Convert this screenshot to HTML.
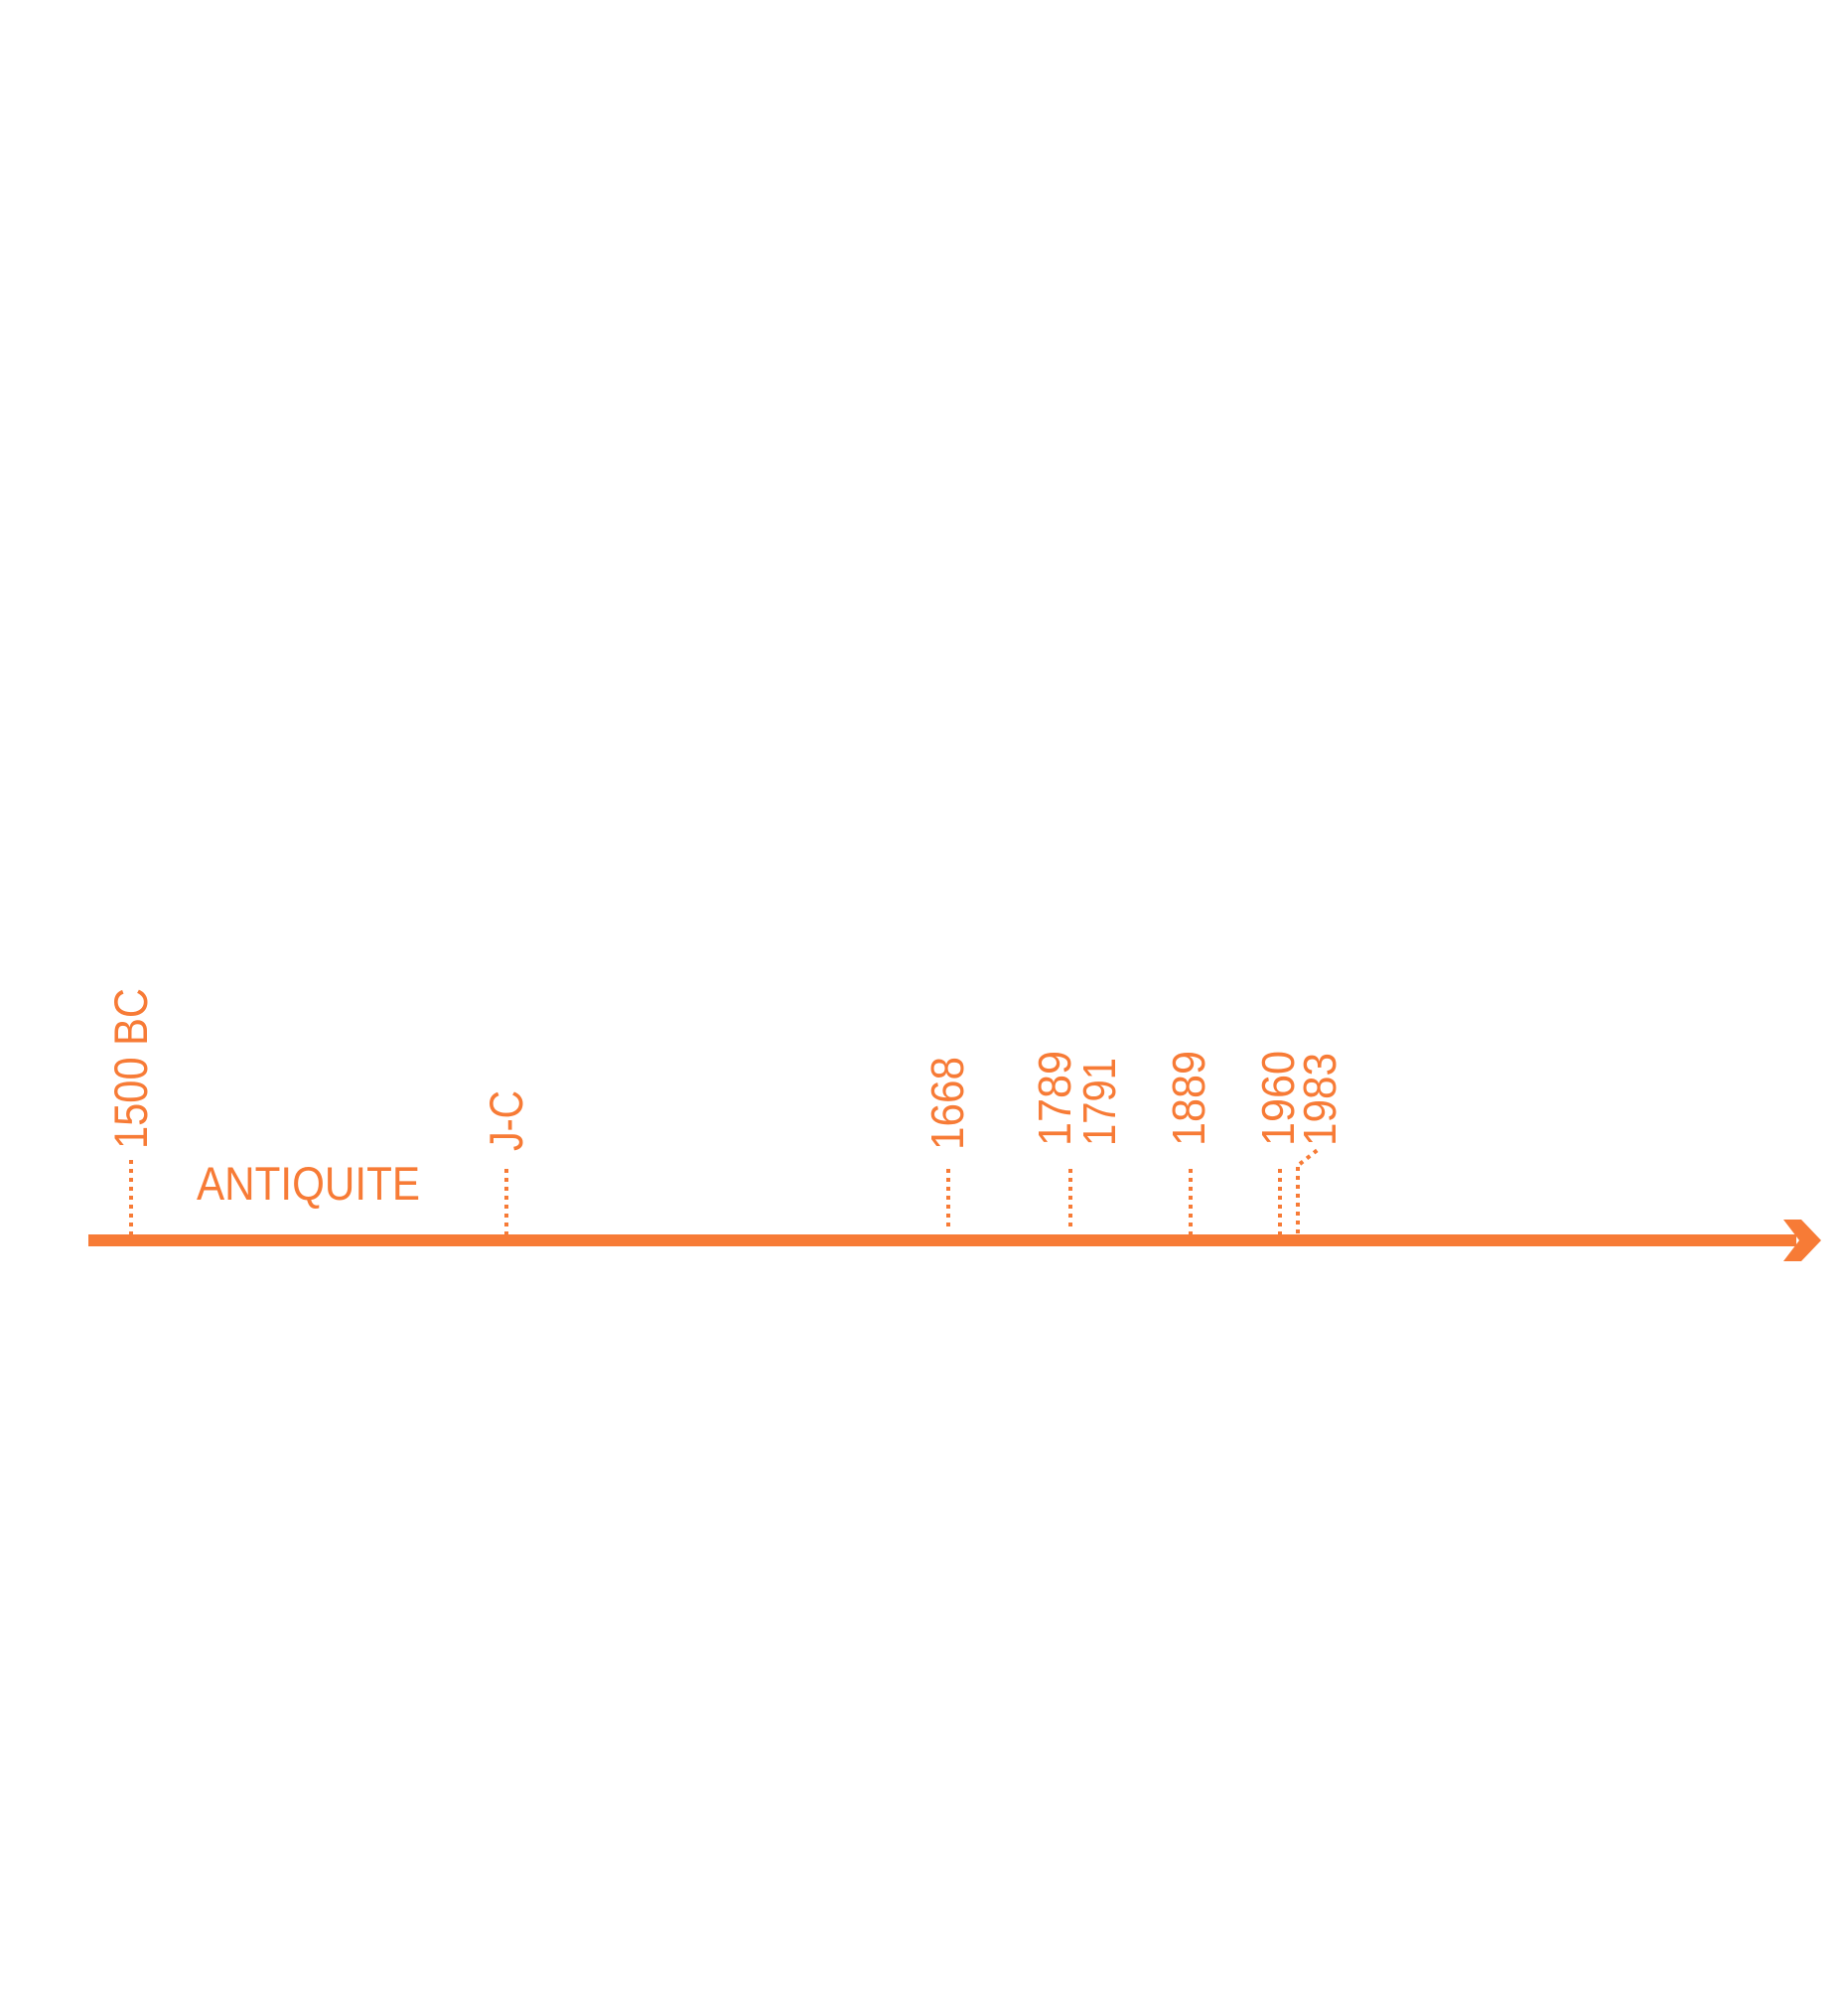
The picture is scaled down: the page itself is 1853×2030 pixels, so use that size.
<!DOCTYPE html>
<html><head><meta charset="utf-8"><style>
html,body{margin:0;padding:0;background:#fff}
svg{display:block}
text{font-family:"Liberation Sans",sans-serif;fill:#F77B36}
</style></head><body>
<svg width="1853" height="2030" viewBox="0 0 1853 2030" xmlns="http://www.w3.org/2000/svg">
<rect width="1853" height="2030" fill="#fff"/>
<rect x="89" y="1243" width="1720" height="12" fill="#F77B36"/>
<polygon points="1796,1228 1814,1228 1834,1249 1814,1270 1796,1270 1812,1249" fill="#F77B36"/>
<g stroke="#F77B36" stroke-width="4" stroke-dasharray="4 5" fill="none">
<line x1="132" y1="1168" x2="132" y2="1243"/>
<line x1="510" y1="1177" x2="510" y2="1243"/>
<line x1="955" y1="1177" x2="955" y2="1238"/>
<line x1="1078" y1="1177" x2="1078" y2="1238"/>
<line x1="1199" y1="1177" x2="1199" y2="1243"/>
<line x1="1289" y1="1177" x2="1289" y2="1243"/>
<line x1="1307" y1="1175" x2="1307" y2="1243"/>
<line x1="1309" y1="1172" x2="1328" y2="1157"/>
</g>
<text x="198" y="1208" font-size="47" textLength="225" lengthAdjust="spacingAndGlyphs">ANTIQUITE</text>
<text transform="translate(148,1157) rotate(-90)" font-size="47" textLength="162" lengthAdjust="spacingAndGlyphs">1500 BC</text>
<text transform="translate(526,1159) rotate(-90)" font-size="47" textLength="61" lengthAdjust="spacingAndGlyphs">J-C</text>
<text transform="translate(970,1158) rotate(-90)" font-size="46" textLength="94" lengthAdjust="spacingAndGlyphs">1668</text>
<text transform="translate(1078,1154) rotate(-90)" font-size="46" textLength="96" lengthAdjust="spacingAndGlyphs">1789</text>
<text transform="translate(1123,1154) rotate(-90)" font-size="46" textLength="89" lengthAdjust="spacingAndGlyphs">1791</text>
<text transform="translate(1213,1154) rotate(-90)" font-size="46" textLength="96" lengthAdjust="spacingAndGlyphs">1889</text>
<text transform="translate(1303,1154) rotate(-90)" font-size="46" textLength="96" lengthAdjust="spacingAndGlyphs">1960</text>
<text transform="translate(1345,1154) rotate(-90)" font-size="46" textLength="94" lengthAdjust="spacingAndGlyphs">1983</text>
</svg>
</body></html>
